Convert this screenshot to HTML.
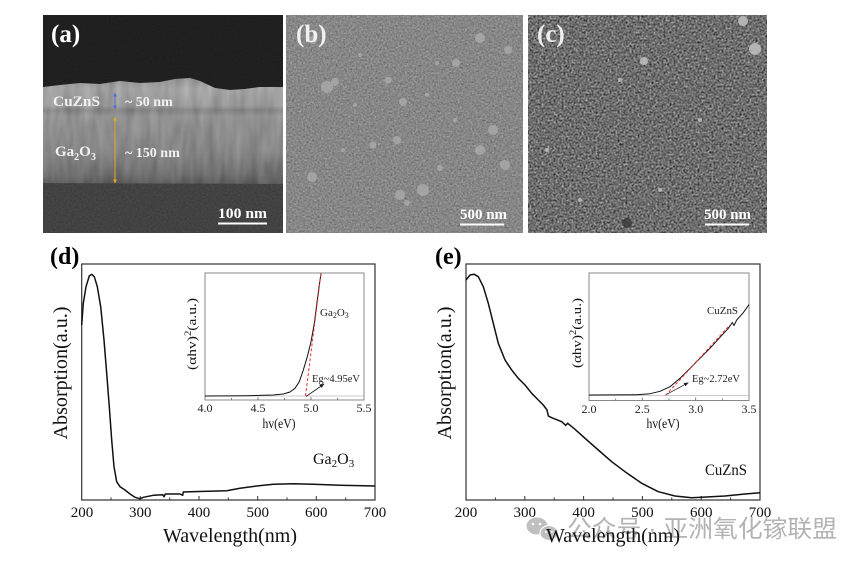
<!DOCTYPE html>
<html><head><meta charset="utf-8"><style>
html,body{margin:0;padding:0;background:#fff;}
body{width:865px;height:563px;overflow:hidden;}
svg{display:block;}
text{font-family:"Liberation Serif",serif;}
</style></head><body>
<svg width="865" height="563" viewBox="0 0 865 563" xmlns="http://www.w3.org/2000/svg">
<defs>
 <filter id="nz" x="0" y="0" width="1" height="1" color-interpolation-filters="sRGB">
  <feTurbulence type="fractalNoise" baseFrequency="0.55" numOctaves="2" seed="4"/>
  <feColorMatrix type="matrix" values="0.33 0.33 0.33 0 0  0.33 0.33 0.33 0 0  0.33 0.33 0.33 0 0  0 0 0 0 1"/>
 </filter>
 <filter id="nzc" x="0" y="0" width="1" height="1" color-interpolation-filters="sRGB">
  <feTurbulence type="fractalNoise" baseFrequency="0.5" numOctaves="2" seed="9"/>
  <feColorMatrix type="matrix" values="0.7 0.7 0.7 0 -0.55  0.7 0.7 0.7 0 -0.55  0.7 0.7 0.7 0 -0.55  0 0 0 0 1"/>
 </filter>
 <filter id="nzs" x="0" y="0" width="1" height="1" color-interpolation-filters="sRGB">
  <feTurbulence type="fractalNoise" baseFrequency="0.12 0.025" numOctaves="2" seed="2"/>
  <feColorMatrix type="matrix" values="0.33 0.33 0.33 0 0  0.33 0.33 0.33 0 0  0.33 0.33 0.33 0 0  0 0 0 0 1"/>
 </filter>
 <linearGradient id="film" gradientUnits="userSpaceOnUse" x1="0" y1="78" x2="0" y2="185">
  <stop offset="0" stop-color="#9c9c9c"/>
  <stop offset="0.1" stop-color="#b6b6b6"/>
  <stop offset="0.26" stop-color="#a4a4a4"/>
  <stop offset="0.3" stop-color="#858585"/>
  <stop offset="0.36" stop-color="#9c9c9c"/>
  <stop offset="0.7" stop-color="#888"/>
  <stop offset="0.9" stop-color="#6c6c6c"/>
  <stop offset="1" stop-color="#505050"/>
 </linearGradient>
 <clipPath id="ca"><rect x="43" y="15" width="240" height="218"/></clipPath>
 <clipPath id="cfilm"><path d="M43,87 L60,85 L80,83 L100,84 L120,81 L140,83 L160,82 L175,79 L190,78 L200,81 L215,88 L230,90 L245,89 L260,87 L283,87 L283,184 L43,183 Z"/></clipPath>
 <marker id="ah" viewBox="0 0 10 10" refX="9" refY="5" markerWidth="6" markerHeight="6" orient="auto-start-reverse"><path d="M0,1 L10,5 L0,9 Z" fill="#222"/></marker>
 <marker id="hb" viewBox="0 0 10 10" refX="9" refY="5" markerWidth="4" markerHeight="4" orient="auto-start-reverse"><path d="M0,0 L10,5 L0,10 Z" fill="#4a72d8"/></marker>
 <marker id="ho" viewBox="0 0 10 10" refX="9" refY="5" markerWidth="4" markerHeight="4" orient="auto-start-reverse"><path d="M0,0 L10,5 L0,10 Z" fill="#e4a52a"/></marker>
</defs>

<!-- ===== SEM (a) ===== -->
<g clip-path="url(#ca)">
 <rect x="43" y="15" width="240" height="218" fill="#1a1a1a"/>
 <rect x="43" y="15" width="240" height="218" filter="url(#nz)" opacity="0.06"/>
 <rect x="43" y="180" width="240" height="53" fill="#383838"/>
 <rect x="43" y="180" width="240" height="53" filter="url(#nz)" opacity="0.15"/>
 <g clip-path="url(#cfilm)">
  <rect x="43" y="75" width="240" height="110" fill="url(#film)"/>
  <rect x="43" y="75" width="240" height="110" filter="url(#nzs)" opacity="0.3"/>
 </g>
</g>
<text x="51" y="42" font-size="25" font-weight="bold" fill="#fff">(a)</text>
<text x="53" y="106" font-size="15" font-weight="bold" fill="#f2f2f2" textLength="47" lengthAdjust="spacingAndGlyphs">CuZnS</text>
<text x="125" y="106" font-size="14" font-weight="bold" fill="#f2f2f2">~ 50 nm</text>
<text x="55" y="156" font-size="15" font-weight="bold" fill="#f2f2f2">Ga<tspan font-size="10" dy="4">2</tspan><tspan dy="-4">O</tspan><tspan font-size="10" dy="4">3</tspan></text>
<text x="125" y="157" font-size="14" font-weight="bold" fill="#f2f2f2">~ 150 nm</text>
<line x1="115" y1="93" x2="115" y2="109" stroke="#4a72d8" stroke-width="1" marker-start="url(#hb)" marker-end="url(#hb)"/>
<line x1="115" y1="117" x2="115" y2="183" stroke="#e4a52a" stroke-width="1" marker-start="url(#ho)" marker-end="url(#ho)"/>
<text x="218" y="218" font-size="15" font-weight="bold" fill="#fff" textLength="49" lengthAdjust="spacingAndGlyphs">100 nm</text>
<rect x="218" y="222.5" width="49" height="2" fill="#fff"/>

<!-- ===== SEM (b) ===== -->
<rect x="286" y="15" width="237" height="218" fill="#929292"/>
<rect x="286" y="15" width="237" height="218" filter="url(#nz)" opacity="0.55"/>
<g fill="#b0b0b0" opacity="0.7">
 <circle cx="480" cy="38" r="5"/><circle cx="456" cy="63" r="4"/><circle cx="437" cy="63" r="2"/>
 <circle cx="388" cy="80" r="3.5"/><circle cx="327" cy="87" r="6"/><circle cx="335" cy="82" r="4"/>
 <circle cx="403" cy="102" r="4"/><circle cx="427" cy="95" r="2"/><circle cx="493" cy="130" r="5"/>
 <circle cx="397" cy="140" r="4"/><circle cx="373" cy="145" r="3.5"/><circle cx="480" cy="150" r="5"/>
 <circle cx="312" cy="177" r="5"/><circle cx="400" cy="195" r="5"/><circle cx="423" cy="190" r="6"/>
 <circle cx="407" cy="203" r="3"/><circle cx="440" cy="168" r="3"/><circle cx="355" cy="105" r="2"/>
 <circle cx="508" cy="50" r="4"/><circle cx="505" cy="165" r="5"/><circle cx="313" cy="40" r="4"/>
 <circle cx="360" cy="55" r="2"/><circle cx="455" cy="120" r="2"/><circle cx="343" cy="150" r="2"/>
</g>
<text x="296" y="42" font-size="25" font-weight="bold" fill="#f0f0f0">(b)</text>
<text x="460" y="219" font-size="15" font-weight="bold" fill="#fff" textLength="47" lengthAdjust="spacingAndGlyphs">500 nm</text>
<rect x="460" y="223.5" width="44" height="2" fill="#fff"/>

<!-- ===== SEM (c) ===== -->
<rect x="528" y="15" width="239" height="218" fill="#525252"/>
<rect x="528" y="15" width="239" height="218" filter="url(#nzc)" opacity="0.6"/>
<g fill="#c0c0c0" opacity="0.85">
 <circle cx="743" cy="21" r="5"/><circle cx="755" cy="49" r="6"/><circle cx="644" cy="61" r="4"/>
 <circle cx="547" cy="150" r="2"/><circle cx="620" cy="80" r="2"/><circle cx="700" cy="120" r="2"/>
 <circle cx="660" cy="190" r="2"/><circle cx="580" cy="200" r="2"/>
</g>
<circle cx="627" cy="223" r="5" fill="#333" opacity="0.7"/>
<text x="537" y="42" font-size="25" font-weight="bold" fill="#f0f0f0">(c)</text>
<text x="704" y="219" font-size="15" font-weight="bold" fill="#fff" textLength="47" lengthAdjust="spacingAndGlyphs">500 nm</text>
<rect x="705" y="223.5" width="44" height="2" fill="#fff"/>

<!-- ===== Chart (d) ===== -->
<text x="50" y="264" font-size="24" font-weight="bold" fill="#000">(d)</text>
<rect x="81.7" y="264" width="293.3" height="236" fill="none" stroke="#333" stroke-width="1.2"/>
<g stroke="#333" stroke-width="1">
 <line x1="140.3" y1="500" x2="140.3" y2="496"/><line x1="199" y1="500" x2="199" y2="496"/>
 <line x1="257.7" y1="500" x2="257.7" y2="496"/><line x1="316.3" y1="500" x2="316.3" y2="496"/>
 <line x1="111" y1="500" x2="111" y2="497.5"/><line x1="169.7" y1="500" x2="169.7" y2="497.5"/>
 <line x1="228.3" y1="500" x2="228.3" y2="497.5"/><line x1="287" y1="500" x2="287" y2="497.5"/>
 <line x1="345.7" y1="500" x2="345.7" y2="497.5"/>
</g>
<g font-size="15" text-anchor="middle" fill="#111">
 <text x="82" y="517">200</text><text x="140.3" y="517">300</text><text x="199" y="517">400</text>
 <text x="257.7" y="517">500</text><text x="316.3" y="517">600</text><text x="375" y="517">700</text>
</g>
<text x="230" y="542" font-size="20" text-anchor="middle" fill="#111" textLength="134" lengthAdjust="spacingAndGlyphs">Wavelength(nm)</text>
<text transform="translate(67,373) rotate(-90)" font-size="20" text-anchor="middle" fill="#111" textLength="133" lengthAdjust="spacingAndGlyphs">Absorption(a.u.)</text>
<polyline fill="none" stroke="#111" stroke-width="1.5" stroke-linejoin="round" points="81.7,325 83.3,303.3 86,286.7 89.3,276 91.7,274.3 94.3,276.7 97.3,286.7 100.7,306.7 104,340 106.7,373.3 109.3,406.7 111.7,440 114,466.7 116.7,481.7 120,486.7 125,490 130,494 135,497.3 140,498.7 143.3,497.3 153.3,495.3 162.7,494.7 164,496.7 165.3,494 180,494 182.7,495.3 183.3,492 190,491.7 226.7,490.7 240,488.3 256.7,486 273.3,484.3 293.3,483.7 313.3,484.3 340,485.3 375,486"/>
<text x="313" y="464" font-size="16" fill="#111">Ga<tspan font-size="11" dy="3">2</tspan><tspan dy="-3">O</tspan><tspan font-size="11" dy="3">3</tspan></text>

<!-- inset (d) -->
<rect x="205" y="273" width="159" height="127" fill="#fff" stroke="#888" stroke-width="1"/>
<line x1="205" y1="396" x2="364" y2="396" stroke="#bbb" stroke-width="0.8"/>
<g stroke="#666" stroke-width="0.8">
 <line x1="258" y1="400" x2="258" y2="397"/><line x1="311" y1="400" x2="311" y2="397"/>
 <line x1="231.5" y1="400" x2="231.5" y2="398"/><line x1="284.5" y1="400" x2="284.5" y2="398"/><line x1="337.5" y1="400" x2="337.5" y2="398"/>
</g>
<g font-size="12" text-anchor="middle" fill="#222">
 <text x="205" y="412">4.0</text><text x="258" y="412">4.5</text><text x="311" y="412">5.0</text><text x="364" y="412">5.5</text>
</g>
<text x="279" y="428" font-size="14" text-anchor="middle" fill="#111" textLength="33" lengthAdjust="spacingAndGlyphs">hv(eV)</text>
<text transform="translate(196,334) rotate(-90)" font-size="13" text-anchor="middle" fill="#111" textLength="72" lengthAdjust="spacingAndGlyphs">(αhv)<tspan font-size="9" dy="-5">2</tspan><tspan dy="5">(a.u.)</tspan></text>
<polyline fill="none" stroke="#111" stroke-width="1" stroke-linejoin="round" points="205,396 246.7,395.7 273.3,395 283.3,394 290,392 295,388.3 299.3,381.7 303.3,370 307.3,356.7 311,341.7 314.3,323.3 317.3,300 319.3,285 321,273.5"/>
<line x1="305.5" y1="396" x2="321" y2="273.5" stroke="#e83030" stroke-width="1" stroke-dasharray="3,2"/>
<line x1="306" y1="396.5" x2="324" y2="384" stroke="#222" stroke-width="0.8" marker-end="url(#ah)"/>
<text x="320" y="316" font-size="11" fill="#222">Ga<tspan font-size="8" dy="2">2</tspan><tspan dy="-2">O</tspan><tspan font-size="8" dy="2">3</tspan></text>
<text x="312" y="382" font-size="11" fill="#222" textLength="48" lengthAdjust="spacingAndGlyphs">Eg~4.95eV</text>

<!-- ===== Chart (e) ===== -->
<text x="435" y="264" font-size="24" font-weight="bold" fill="#000">(e)</text>
<rect x="466" y="264" width="294" height="236" fill="none" stroke="#333" stroke-width="1.2"/>
<g stroke="#333" stroke-width="1">
 <line x1="524.8" y1="500" x2="524.8" y2="496"/><line x1="583.6" y1="500" x2="583.6" y2="496"/>
 <line x1="642.4" y1="500" x2="642.4" y2="496"/><line x1="701.2" y1="500" x2="701.2" y2="496"/>
 <line x1="495.4" y1="500" x2="495.4" y2="497.5"/><line x1="554.2" y1="500" x2="554.2" y2="497.5"/>
 <line x1="613" y1="500" x2="613" y2="497.5"/><line x1="671.8" y1="500" x2="671.8" y2="497.5"/>
 <line x1="730.6" y1="500" x2="730.6" y2="497.5"/>
</g>

<!-- watermark -->
<g opacity="0.85">
 <ellipse cx="537" cy="526" rx="11" ry="9" fill="#b4b4b4" stroke="#fff" stroke-width="1"/>
 <ellipse cx="549" cy="533" rx="9" ry="7.5" fill="#b4b4b4" stroke="#fff" stroke-width="1.2"/>
 <circle cx="533" cy="524" r="1.3" fill="#fff"/><circle cx="540" cy="524" r="1.3" fill="#fff"/>
 <circle cx="546" cy="532" r="1" fill="#fff"/><circle cx="552" cy="532" r="1" fill="#fff"/>
 <text x="567" y="537" font-size="24" fill="#a6a6a6" style="font-family:'Liberation Sans','Noto Sans CJK SC',sans-serif" textLength="270" lengthAdjust="spacingAndGlyphs">公众号 · 亚洲氧化镓联盟</text>
</g>

<g font-size="15" text-anchor="middle" fill="#111">
 <text x="466" y="517">200</text><text x="524.8" y="517">300</text><text x="583.6" y="517">400</text>
 <text x="642.4" y="517">500</text><text x="701.2" y="517">600</text><text x="760" y="517">700</text>
</g>
<text x="613" y="542" font-size="20" text-anchor="middle" fill="#111" textLength="134" lengthAdjust="spacingAndGlyphs">Wavelength(nm)</text>
<text transform="translate(451,373) rotate(-90)" font-size="20" text-anchor="middle" fill="#111" textLength="133" lengthAdjust="spacingAndGlyphs">Absorption(a.u.)</text>
<polyline fill="none" stroke="#111" stroke-width="1.5" stroke-linejoin="round" points="466,280 470,275 474.3,274.3 478.3,276.7 483.3,286.7 488.3,303.3 493.3,323.3 498.3,343.3 505,360 511.7,370 518.3,378.3 525,385 531.7,393.3 538.3,400 543.3,405 547,410 548.3,416 551.7,417.7 561.7,421.7 565.7,425.3 567.7,423.3 575,429.3 585,438.3 598.3,450 611.7,461.7 625,471.7 641.7,483.3 658.3,491.7 675,496 691.7,497.7 701.7,497.3 725,496 745,494 760,492.7"/>
<text x="705" y="475" font-size="16" fill="#111" textLength="42" lengthAdjust="spacingAndGlyphs">CuZnS</text>

<!-- inset (e) -->
<rect x="589" y="273" width="160" height="127.5" fill="#fff" stroke="#888" stroke-width="1"/>
<line x1="589" y1="395.5" x2="749" y2="395.5" stroke="#bbb" stroke-width="0.8"/>
<g stroke="#666" stroke-width="0.8">
 <line x1="642.3" y1="400.5" x2="642.3" y2="397.5"/><line x1="695.7" y1="400.5" x2="695.7" y2="397.5"/>
 <line x1="615.7" y1="400.5" x2="615.7" y2="398.5"/><line x1="669" y1="400.5" x2="669" y2="398.5"/><line x1="722.3" y1="400.5" x2="722.3" y2="398.5"/>
</g>
<g font-size="12" text-anchor="middle" fill="#222">
 <text x="589" y="413">2.0</text><text x="642.3" y="413">2.5</text><text x="695.7" y="413">3.0</text><text x="749" y="413">3.5</text>
</g>
<text x="663" y="428" font-size="14" text-anchor="middle" fill="#111" textLength="33" lengthAdjust="spacingAndGlyphs">hv(eV)</text>
<text transform="translate(581,333) rotate(-90)" font-size="13" text-anchor="middle" fill="#111" textLength="70" lengthAdjust="spacingAndGlyphs">(αhv)<tspan font-size="9" dy="-5">2</tspan><tspan dy="5">(a.u.)</tspan></text>
<polyline fill="none" stroke="#111" stroke-width="1" stroke-linejoin="round" points="589,395 636.7,394.7 650,393.7 660,391.3 670,386.7 680,378.3 690,368.3 700,358.3 710,348.3 720,337.3 728.3,328.3 732.3,322.5 734,325.5 736.7,320 743.3,312.7 749,304.5"/>
<line x1="665.5" y1="395.5" x2="728.3" y2="326.7" stroke="#e83030" stroke-width="1" stroke-dasharray="3,2"/>
<line x1="666.7" y1="394.3" x2="688.3" y2="382.7" stroke="#222" stroke-width="0.8" marker-end="url(#ah)"/>
<text x="707" y="314" font-size="11" fill="#222" textLength="31" lengthAdjust="spacingAndGlyphs">CuZnS</text>
<text x="692" y="382" font-size="11" fill="#222" textLength="48" lengthAdjust="spacingAndGlyphs">Eg~2.72eV</text>
</svg>
</body></html>
